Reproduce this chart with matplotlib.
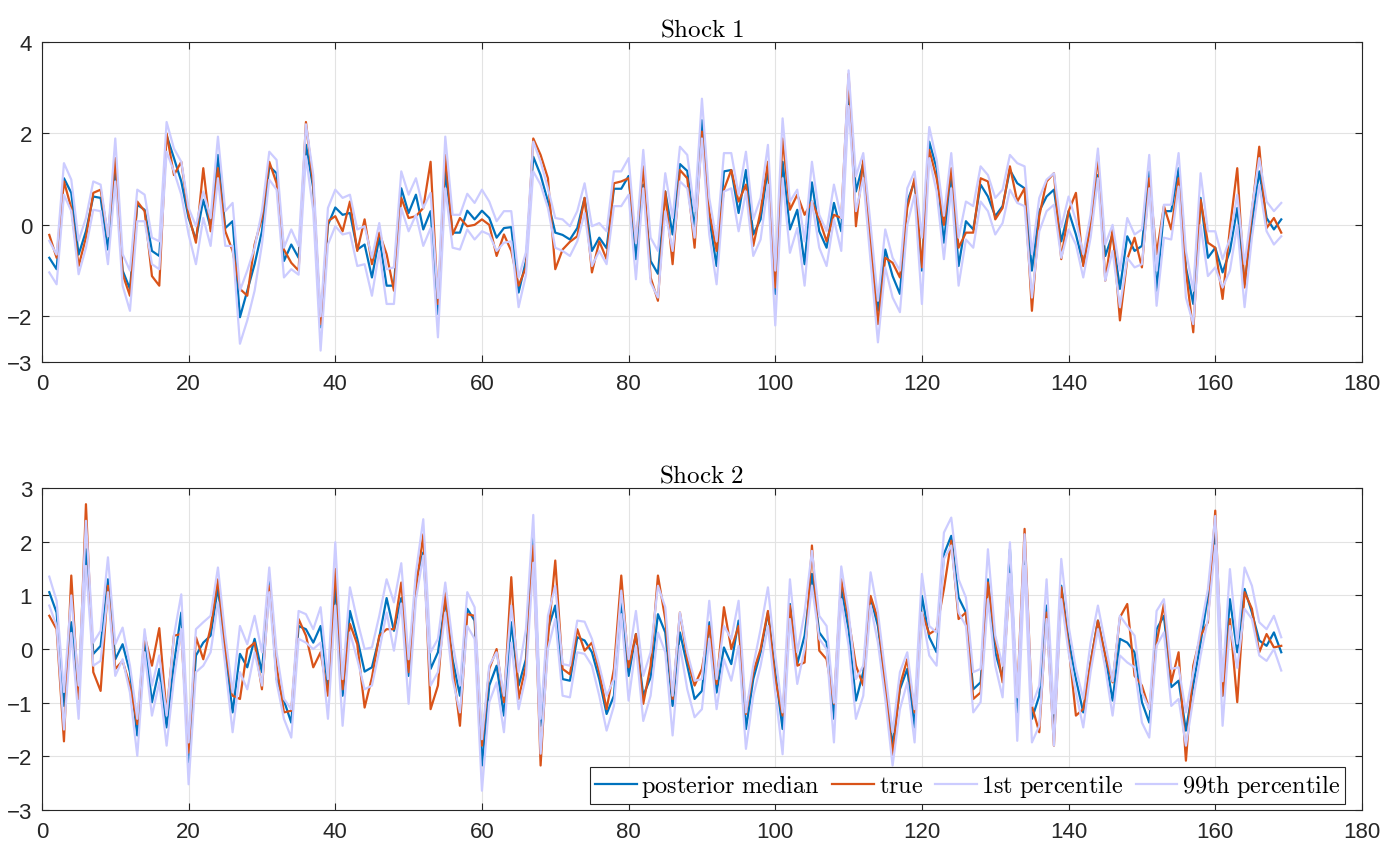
import numpy as np
import matplotlib
matplotlib.use("Agg")
import matplotlib.pyplot as plt

plt.rcParams['mathtext.fontset'] = 'cm'
plt.rcParams['font.family'] = ['Liberation Sans', 'DejaVu Sans']

t = np.arange(1, 170)

# Shock 1
s1_median = [-0.72, -0.97, 1.02, 0.70, -0.65, -0.14, 0.62, 0.59, -0.54, 1.20,
             -1.00, -1.40, 0.44, 0.33, -0.57, -0.68, 1.96, 1.46, 0.95, 0.15,
             -0.32, 0.55, -0.07, 1.53, -0.07, 0.08, -2.02, -1.44, -0.86, -0.14,
             1.28, 1.13, -0.79, -0.43, -0.72, 1.75, 0.80, -2.24, 0.00, 0.38,
             0.22, 0.26, -0.54, -0.43, -1.15, -0.28, -1.33, -1.33, 0.80, 0.26,
             0.66, -0.10, 0.30, -1.95, 1.17, -0.17, -0.17, 0.31, 0.12, 0.31,
             0.15, -0.28, -0.07, -0.05, -1.48, -0.79, 1.49, 1.09, 0.51, -0.17,
             -0.22, -0.32, -0.07, 0.59, -0.57, -0.28, -0.51, 0.79, 0.79, 1.07,
             -0.75, 0.88, -0.79, -1.07, 0.73, -0.21, 1.33, 1.18, -0.10, 2.29,
             0.15, -0.90, 1.17, 1.20, 0.26, 1.20, -0.21, 0.12, 1.24, -1.51,
             1.38, -0.10, 0.33, -0.86, 0.93, -0.14, -0.50, 0.48, -0.14, 3.00,
             0.73, 1.35, -0.40, -1.88, -0.54, -1.12, -1.51, 0.51, 0.95, -1.00,
             1.82, 1.24, -0.39, 1.13, -0.90, 0.08, -0.10, 0.88, 0.62, 0.19,
             0.41, 1.20, 0.91, 0.80, -1.00, 0.30, 0.62, 0.77, -0.36, 0.30,
             -0.21, -0.86, 0.00, 1.09, -0.68, -0.21, -1.40, -0.25, -0.57, -0.46,
             1.17, -1.44, 0.30, 0.30, 1.24, -0.93, -1.73, 0.59, -0.72, -0.50,
             -1.04, -0.57, 0.37, -1.30, 0.00, 1.17, 0.15, -0.10, 0.12]
s1_true = [-0.22, -0.72, 0.95, 0.37, -0.90, -0.28, 0.70, 0.77, -0.25, 1.46,
           -1.08, -1.55, 0.51, 0.30, -1.12, -1.33, 2.00, 1.09, 1.38, 0.22,
           -0.39, 1.24, -0.14, 1.24, -0.14, -0.57, -1.40, -1.55, -0.43, 0.15,
           1.38, 0.91, -0.54, -0.83, -1.00, 2.25, 0.88, -2.17, 0.08, 0.19,
           -0.14, 0.51, -0.57, 0.12, -0.86, -0.17, -0.64, -1.44, 0.59, 0.15,
           0.19, 0.37, 1.38, -1.73, 1.53, -0.21, 0.15, -0.03, 0.00, 0.12,
           0.00, -0.68, -0.21, -0.57, -1.33, -0.93, 1.89, 1.53, 1.02, -0.97,
           -0.54, -0.37, -0.25, 0.59, -1.04, -0.36, -0.75, 0.91, 0.95, 1.02,
           -0.39, 1.28, -1.15, -1.66, 0.73, -0.86, 1.20, 1.02, -0.50, 2.04,
           0.30, -0.57, 0.77, 1.20, 0.51, 0.88, -0.46, 0.30, 1.38, -1.37,
           1.89, 0.33, 0.66, 0.22, 0.51, 0.12, -0.36, 0.22, 0.15, 3.30,
           -0.03, 1.42, -0.40, -2.17, -0.72, -0.83, -1.15, 0.37, 1.02, -0.93,
           1.64, 1.02, 0.00, 1.24, -0.50, -0.17, -0.17, 1.02, 0.95, 0.12,
           0.37, 1.28, 0.51, 0.80, -1.88, 0.19, 0.95, 1.13, -0.75, 0.30,
           0.70, -0.90, -0.03, 1.53, -1.22, -0.10, -2.09, -0.75, -0.28, -0.93,
           1.02, -0.64, 0.41, -0.10, 1.02, -1.00, -2.35, 0.55, -0.39, -0.50,
           -1.62, -0.07, 1.24, -1.37, 0.30, 1.71, -0.07, 0.15, -0.17]
s1_p01 = [-1.04, -1.30, 0.66, 0.30, -1.08, -0.50, 0.33, 0.30, -0.86, 0.95,
          -1.33, -1.88, 0.08, 0.08, -0.86, -0.97, 1.60, 1.17, 0.66, -0.21,
          -0.86, 0.15, -0.46, 1.02, -0.46, -0.46, -2.60, -2.09, -1.44, -0.43,
          0.99, 0.77, -1.15, -0.97, -1.09, 1.50, 0.30, -2.75, -0.43, -0.03,
          -0.21, -0.17, -0.90, -0.86, -1.55, -0.57, -1.73, -1.73, 0.37, -0.14,
          0.22, -0.46, -0.07, -2.46, 0.80, -0.50, -0.54, -0.10, -0.32, -0.14,
          -0.21, -0.57, -0.39, -0.36, -1.80, -1.10, 1.17, 0.88, 0.37, -0.50,
          -0.57, -0.68, -0.36, 0.26, -0.90, -0.57, -0.86, 0.41, 0.41, 0.66,
          -1.19, 0.80, -1.26, -1.59, 0.30, -0.57, 0.95, 0.80, -0.28, 1.89,
          -0.21, -1.30, 0.73, 0.80, -0.14, 0.73, -0.68, -0.32, 0.88, -2.20,
          1.02, -0.61, -0.07, -1.33, 0.51, -0.50, -0.90, 0.12, -0.57, 2.60,
          0.30, 1.02, -0.80, -2.57, -0.93, -1.59, -1.91, 0.00, 0.66, -1.73,
          1.46, 0.73, -0.75, 0.80, -1.33, -0.32, -0.50, 0.51, 0.30, -0.21,
          0.04, 0.77, 0.48, 0.41, -1.59, -0.14, 0.30, 0.44, -0.72, -0.10,
          -0.43, -1.15, -0.28, 1.02, -1.22, -0.57, -1.80, -0.72, -0.93, -0.86,
          0.80, -1.77, -0.28, -0.32, 0.84, -1.59, -2.17, 0.00, -1.12, -0.93,
          -1.37, -1.00, 0.00, -1.80, -0.28, 0.88, -0.14, -0.43, -0.25]
s1_p99 = [-0.35, -0.65, 1.35, 0.99, -0.35, 0.15, 0.95, 0.88, -0.25, 1.89,
          -0.64, -1.00, 0.77, 0.66, -0.28, -0.36, 2.25, 1.67, 1.38, 0.37,
          -0.03, 0.73, 0.15, 1.93, 0.30, 0.48, -1.44, -1.00, -0.50, 0.30,
          1.60, 1.42, -0.50, -0.10, -0.46, 2.20, 1.09, -2.00, 0.37, 0.77,
          0.59, 0.66, -0.10, -0.03, -0.72, 0.04, -0.97, -0.93, 1.17, 0.66,
          1.02, 0.37, 0.70, -1.60, 1.93, 0.22, 0.22, 0.68, 0.48, 0.77,
          0.51, 0.08, 0.30, 0.30, -1.15, -0.60, 1.82, 1.38, 0.80, 0.15,
          0.12, -0.03, 0.30, 0.91, -0.03, 0.04, -0.14, 1.17, 1.17, 1.46,
          -0.40, 1.64, -0.28, -0.57, 1.13, 0.15, 1.71, 1.53, 0.30, 2.76,
          0.59, -0.36, 1.57, 1.57, 0.66, 1.60, 0.12, 0.59, 1.75, -1.00,
          2.33, 0.51, 0.77, -0.36, 1.38, 0.22, -0.14, 0.88, 0.15, 3.38,
          1.06, 1.57, 0.00, -1.66, -0.10, -0.72, -1.00, 0.80, 1.17, -0.28,
          2.14, 1.42, 0.20, 1.57, -0.28, 0.51, 0.41, 1.28, 1.09, 0.59,
          0.77, 1.53, 1.35, 1.28, -0.64, 0.59, 0.99, 1.13, -0.05, 0.62,
          0.10, -0.64, 0.22, 1.67, -0.43, 0.00, -1.00, 0.15, -0.21, -0.10,
          1.53, -1.00, 0.44, 0.44, 1.57, -0.57, -1.44, 1.13, -0.14, -0.14,
          -0.75, -0.30, 0.66, -0.86, 0.37, 1.46, 0.51, 0.30, 0.48]

# Shock 2
s2_median = [1.06, 0.68, -1.06, 0.50, -0.81, 1.86, -0.09, 0.06, 1.30, -0.19,
             0.09, -0.43, -1.61, 0.19, -0.99, -0.37, -1.46, -0.28, 0.68, -2.11,
             -0.12, 0.12, 0.25, 1.15, -0.06, -1.18, -0.09, -0.34, 0.19, -0.43,
             1.30, -0.56, -0.96, -1.37, 0.43, 0.37, 0.12, 0.43, -0.71, 1.18,
             -0.87, 0.71, 0.19, -0.42, -0.34, 0.22, 0.95, 0.34, 0.95, -0.50,
             1.30, 1.80, -0.37, -0.06, 0.90, -0.19, -0.87, 0.75, 0.53, -2.17,
             -0.68, -0.31, -1.24, 0.50, -0.68, -0.19, 2.08, -1.43, 0.37, 0.81,
             -0.56, -0.59, 0.22, 0.16, -0.06, -0.56, -1.21, -0.87, 0.87, -0.50,
             0.28, -0.87, -0.53, 0.65, 0.31, -1.06, 0.31, -0.31, -0.93, -0.78,
             0.50, -0.81, 0.03, -0.28, 0.53, -1.49, -0.56, -0.06, 0.68, -0.43,
             -1.49, 0.84, -0.28, 0.25, 1.40, 0.31, 0.12, -1.30, 1.12, 0.37,
             -0.96, -0.43, 0.96, 0.43, -0.68, -1.80, -0.75, -0.37, -1.46, 0.99,
             0.22, -0.06, 1.77, 2.11, 0.96, 0.68, -0.75, -0.62, 1.30, -0.06,
             -0.56, 1.86, -1.18, 1.93, -1.30, -0.87, 0.81, -1.61, 1.18, 0.19,
             -0.56, -1.18, -0.25, 0.53, -0.12, -0.96, 0.19, 0.12, -0.06, -0.99,
             -1.37, 0.37, 0.62, -0.71, -0.59, -1.52, -0.68, 0.12, 0.99, 2.24,
             -0.87, 0.93, -0.06, 1.12, 0.68, 0.16, 0.06, 0.31, -0.06]
s2_true = [0.62, 0.37, -1.72, 1.37, -0.93, 2.70, -0.43, -0.78, 1.18, -0.37,
           -0.22, -0.68, -1.40, 0.25, -0.31, 0.39, -1.21, 0.25, 0.28, -1.93,
           0.22, -0.19, 0.40, 1.30, 0.00, -0.87, -0.93, 0.00, 0.12, -0.75,
           1.18, -0.31, -1.18, -1.15, 0.56, 0.25, -0.34, -0.06, -0.87, 1.49,
           -0.75, 0.47, 0.09, -1.09, -0.53, 0.25, 0.37, 0.37, 1.24, -0.43,
           1.12, 2.14, -1.12, -0.68, 1.06, -0.31, -1.43, 0.65, 0.62, -1.80,
           -0.37, 0.00, -0.99, 1.34, -0.93, -0.31, 1.93, -2.17, 0.19, 1.65,
           -0.37, -0.47, 0.37, -0.03, 0.12, -0.43, -1.12, -0.37, 1.37, -0.34,
           0.28, -1.02, -0.31, 1.37, 0.56, -0.93, 0.68, -0.19, -0.68, -0.37,
           0.43, -0.65, 0.78, 0.00, 0.43, -1.21, -0.43, 0.00, 0.71, -0.56,
           -1.24, 0.81, -0.31, -0.25, 1.93, -0.03, -0.19, -1.02, 1.30, 0.56,
           -0.31, -0.68, 0.99, 0.56, -0.68, -1.99, -0.68, -0.19, -1.18, 0.68,
           0.28, 0.37, 1.12, 2.02, 0.56, 0.68, -0.93, -0.81, 1.24, 0.19,
           -0.62, 1.30, -0.87, 2.24, -1.06, -1.55, 0.68, -1.80, 1.15, 0.06,
           -1.24, -1.12, -0.25, 0.53, -0.12, -0.62, 0.59, 0.84, -0.50, -0.68,
           -1.12, 0.12, 0.84, -0.62, -0.06, -2.08, -0.31, 0.25, 0.50, 2.58,
           -0.87, 0.56, -0.99, 1.06, 0.75, -0.06, 0.28, 0.03, 0.06]
s2_p01 = [0.81, 0.43, -1.50, 0.30, -1.30, 1.55, -0.31, -0.22, 1.06, -0.50,
          -0.19, -0.81, -1.99, -0.06, -1.24, -0.62, -1.80, -0.56, 0.37, -2.52,
          -0.43, -0.31, -0.06, 0.87, -0.31, -1.55, -0.43, -0.75, -0.06, -0.68,
          1.06, -0.62, -1.30, -1.65, 0.19, 0.12, 0.00, 0.12, -1.30, 0.81,
          -1.43, 0.31, -0.19, -0.75, -0.68, -0.03, 0.68, -0.03, 0.85, -1.02,
          0.93, 1.74, -0.68, -0.43, 0.68, -0.56, -1.18, 0.43, 0.19, -2.64,
          -0.99, -0.62, -1.55, 0.12, -1.12, -0.50, 1.61, -1.95, 0.00, 0.56,
          -0.87, -0.90, -0.06, -0.09, -0.31, -0.87, -1.52, -1.06, 0.65, -0.96,
          0.06, -1.34, -0.87, 0.31, -0.06, -1.61, 0.06, -0.75, -1.27, -1.12,
          0.19, -1.12, -0.19, -0.59, 0.06, -1.86, -0.87, -0.31, 0.43, -0.81,
          -1.96, 0.56, -0.65, 0.00, 1.18, 0.19, 0.00, -1.74, 0.93, 0.06,
          -1.30, -0.87, 0.81, 0.12, -0.93, -2.17, -1.12, -0.62, -1.74, 0.68,
          -0.12, -0.31, 1.68, 1.93, 0.68, 0.43, -1.18, -0.99, 0.93, -0.31,
          -0.90, 1.40, -1.71, 1.55, -1.74, -1.43, 0.56, -1.80, 0.93, -0.06,
          -0.81, -1.46, -0.43, 0.37, -0.35, -1.24, -0.12, -0.25, -0.34, -1.37,
          -1.65, 0.06, 0.31, -1.06, -0.93, -1.80, -0.93, -0.12, 0.56, 1.93,
          -1.43, 0.43, -0.35, 0.75, 0.56, -0.12, -0.22, 0.00, -0.40]
s2_p99 = [1.35, 0.90, -0.80, 1.00, -0.68, 2.39, 0.12, 0.34, 1.71, 0.09,
          0.40, -0.31, -1.30, 0.37, -0.68, -0.12, -1.24, 0.25, 1.02, -1.74,
          0.37, 0.50, 0.62, 1.52, 0.25, -0.81, 0.43, 0.09, 0.62, -0.06,
          1.52, -0.06, -0.93, -1.12, 0.71, 0.65, 0.37, 0.78, -0.56, 1.99,
          -0.56, 1.15, 0.53, 0.00, 0.03, 0.62, 1.30, 0.87, 1.60, -0.19,
          1.43, 2.42, -0.06, 0.19, 1.24, 0.12, -0.68, 1.06, 0.78, -1.68,
          -0.31, -0.06, -0.87, 0.81, -0.43, 0.37, 2.50, -1.30, 0.62, 1.18,
          -0.28, -0.31, 0.53, 0.51, 0.19, -0.31, -0.87, -0.56, 1.09, -0.19,
          0.71, -0.50, -0.06, 1.18, 0.78, -0.87, 0.68, -0.06, -0.59, -0.56,
          0.90, -0.56, 0.43, 0.19, 0.90, -1.18, -0.31, 0.37, 1.15, -0.12,
          -1.18, 1.30, -0.06, 0.68, 1.83, 0.62, 0.43, -1.00, 1.54, 0.68,
          -0.56, -0.31, 1.43, 0.68, -0.43, -1.55, -0.43, -0.06, -1.12, 1.40,
          0.43, 0.31, 2.17, 2.45, 1.30, 0.96, -0.43, -0.37, 1.86, 0.25,
          -0.31, 1.99, -0.90, 2.14, -1.06, -0.68, 1.30, -1.20, 1.68, 0.43,
          -0.37, -0.93, 0.12, 0.81, 0.10, -0.60, 0.62, 0.43, 0.25, -0.81,
          -1.12, 0.71, 0.93, -0.37, -0.34, -1.18, -0.43, 0.37, 1.12, 2.48,
          -0.60, 1.49, 0.10, 1.52, 1.18, 0.50, 0.37, 0.62, 0.22]

blue = '#0072BD'
orange = '#D95319'
lav = '#CCCCFF'

fig = plt.figure(figsize=(13.89, 8.45), dpi=100)
ax1 = fig.add_axes([0.0302, 0.5704, 0.9503, 0.3787])
ax2 = fig.add_axes([0.0302, 0.0402, 0.9503, 0.3810])

panels = [(ax1, s1_median, s1_true, s1_p01, s1_p99, r'$\mathrm{Shock\ 1}$', (-3, 4), [-3, -2, 0, 2, 4]),
          (ax2, s2_median, s2_true, s2_p01, s2_p99, r'$\mathrm{Shock\ 2}$', (-3, 3), [-3, -2, -1, 0, 1, 2, 3])]

for ax, med, tru, lo, hi, title, ylim, yt in panels:
    ax.plot(t, med, color=blue, lw=1.6, label=r'$\mathrm{posterior\ median}$')
    ax.plot(t, tru, color=orange, lw=1.6, label=r'$\mathrm{true}$')
    ax.plot(t, lo, color=lav, lw=1.6, label=r'$\mathrm{1st\ percentile}$')
    ax.plot(t, hi, color=lav, lw=1.6, label=r'$\mathrm{99th\ percentile}$')
    ax.set_xlim(0, 180)
    ax.set_ylim(*ylim)
    ax.set_xticks(np.arange(0, 181, 20))
    ax.set_yticks(yt)
    ax.grid(True, color='#e3e3e3', lw=0.8)
    ax.set_axisbelow(True)
    ax.tick_params(direction='in', top=True, right=True, labelsize=16,
                   length=5, width=0.8, color='#262626', labelcolor='#262626')
    ax.tick_params(axis='x', pad=8)
    ax.tick_params(axis='y', pad=7)
    for sp in ax.spines.values():
        sp.set_color('#262626')
        sp.set_linewidth(0.8)
    ax.set_title(title, fontsize=18, pad=5)

leg = ax2.legend(loc='lower right', bbox_to_anchor=(0.987, 0.019), ncol=4,
                 fontsize=17.5, handlelength=1.7, handletextpad=0.2,
                 columnspacing=0.5, borderpad=0.2, borderaxespad=0.0,
                 fancybox=False, framealpha=1)
leg.get_frame().set_edgecolor('#262626')
leg.get_frame().set_linewidth(0.8)

fig.savefig('out.png', dpi=100)
